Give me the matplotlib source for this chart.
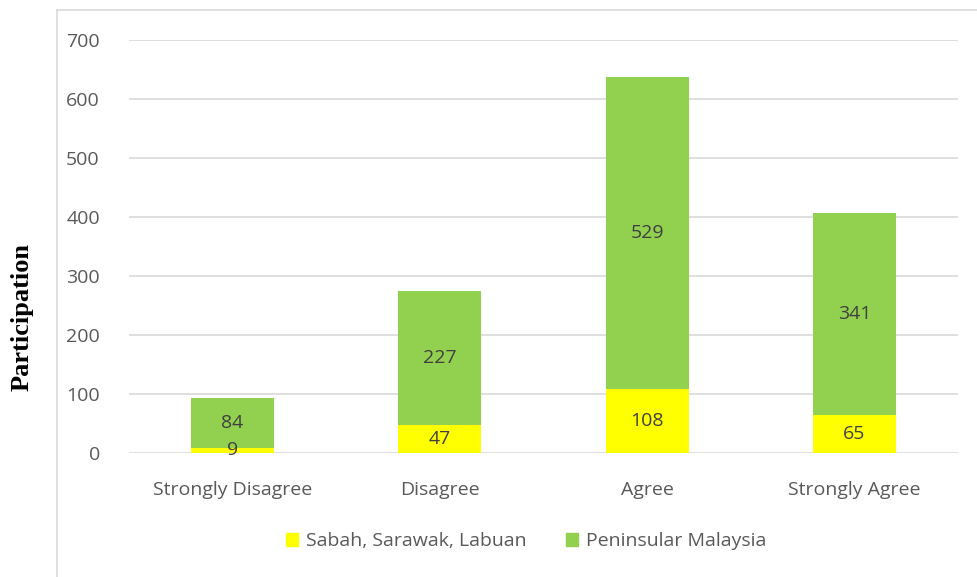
import matplotlib
matplotlib.use("Agg")
import matplotlib.pyplot as plt
from matplotlib.lines import Line2D
from matplotlib.patches import Patch

categories = ["Strongly Disagree", "Disagree", "Agree", "Strongly Agree"]
sabah = [9, 47, 108, 65]
peninsular = [84, 227, 529, 341]
series_names = ["Sabah, Sarawak, Labuan", "Peninsular Malaysia"]

yellow = "#FFFF00"
green = "#92D050"
grey_txt = "#595959"

plt.rcParams["font.family"] = ["Open Sans", "DejaVu Sans"]

fig = plt.figure(figsize=(9.78, 5.77), dpi=100)
ax = fig.add_axes([129 / 978, 124 / 577, 829 / 978, 413 / 577])

x = range(len(categories))
b1 = ax.bar(x, sabah, width=0.4, color=yellow, zorder=3)
b2 = ax.bar(x, peninsular, width=0.4, bottom=sabah, color=green, zorder=3)

# 값 표시
for i in x:
    ax.text(i, sabah[i] / 2, str(sabah[i]), ha="center", va="center",
            fontsize=14, color="#404040", zorder=4)
    ax.text(i, sabah[i] + peninsular[i] / 2, str(peninsular[i]), ha="center",
            va="center", fontsize=14, color="#404040", zorder=4)

ax.set_xlim(-0.5, 3.5)
ax.set_ylim(0, 700)
ax.set_yticks(range(0, 701, 100))
ax.set_xticks(list(x))
ax.set_xticklabels(categories)
ax.grid(axis="y", color="#d9d9d9", linewidth=1.2, zorder=0)
for s in ax.spines.values():
    s.set_visible(False)
ax.tick_params(axis="both", length=0, colors=grey_txt, labelsize=14)
ax.tick_params(axis="y", pad=21)
ax.tick_params(axis="x", pad=20)

fig.text(22 / 978, 1 - 317 / 577, "Participation", rotation=90, ha="center",
         va="center", fontsize=19, fontweight="bold", family="Liberation Serif")

# 바깥 테두리
fig.add_artist(Line2D([57 / 978, 57 / 978], [0, 1 - 10 / 577], color="#d9d9d9", lw=1.2))
fig.add_artist(Line2D([57 / 978, 1], [1 - 10 / 577, 1 - 10 / 577], color="#d9d9d9", lw=1.2))

handles = [Patch(color=yellow), Patch(color=green)]
fig.legend(handles, series_names, loc="center", bbox_to_anchor=(526 / 978, 1 - 541 / 577),
           ncol=2, frameon=False, fontsize=14, labelcolor=grey_txt,
           handlelength=0.65, handleheight=0.65, handletextpad=0.4, columnspacing=2.0)

fig.savefig("out.png", dpi=100)
